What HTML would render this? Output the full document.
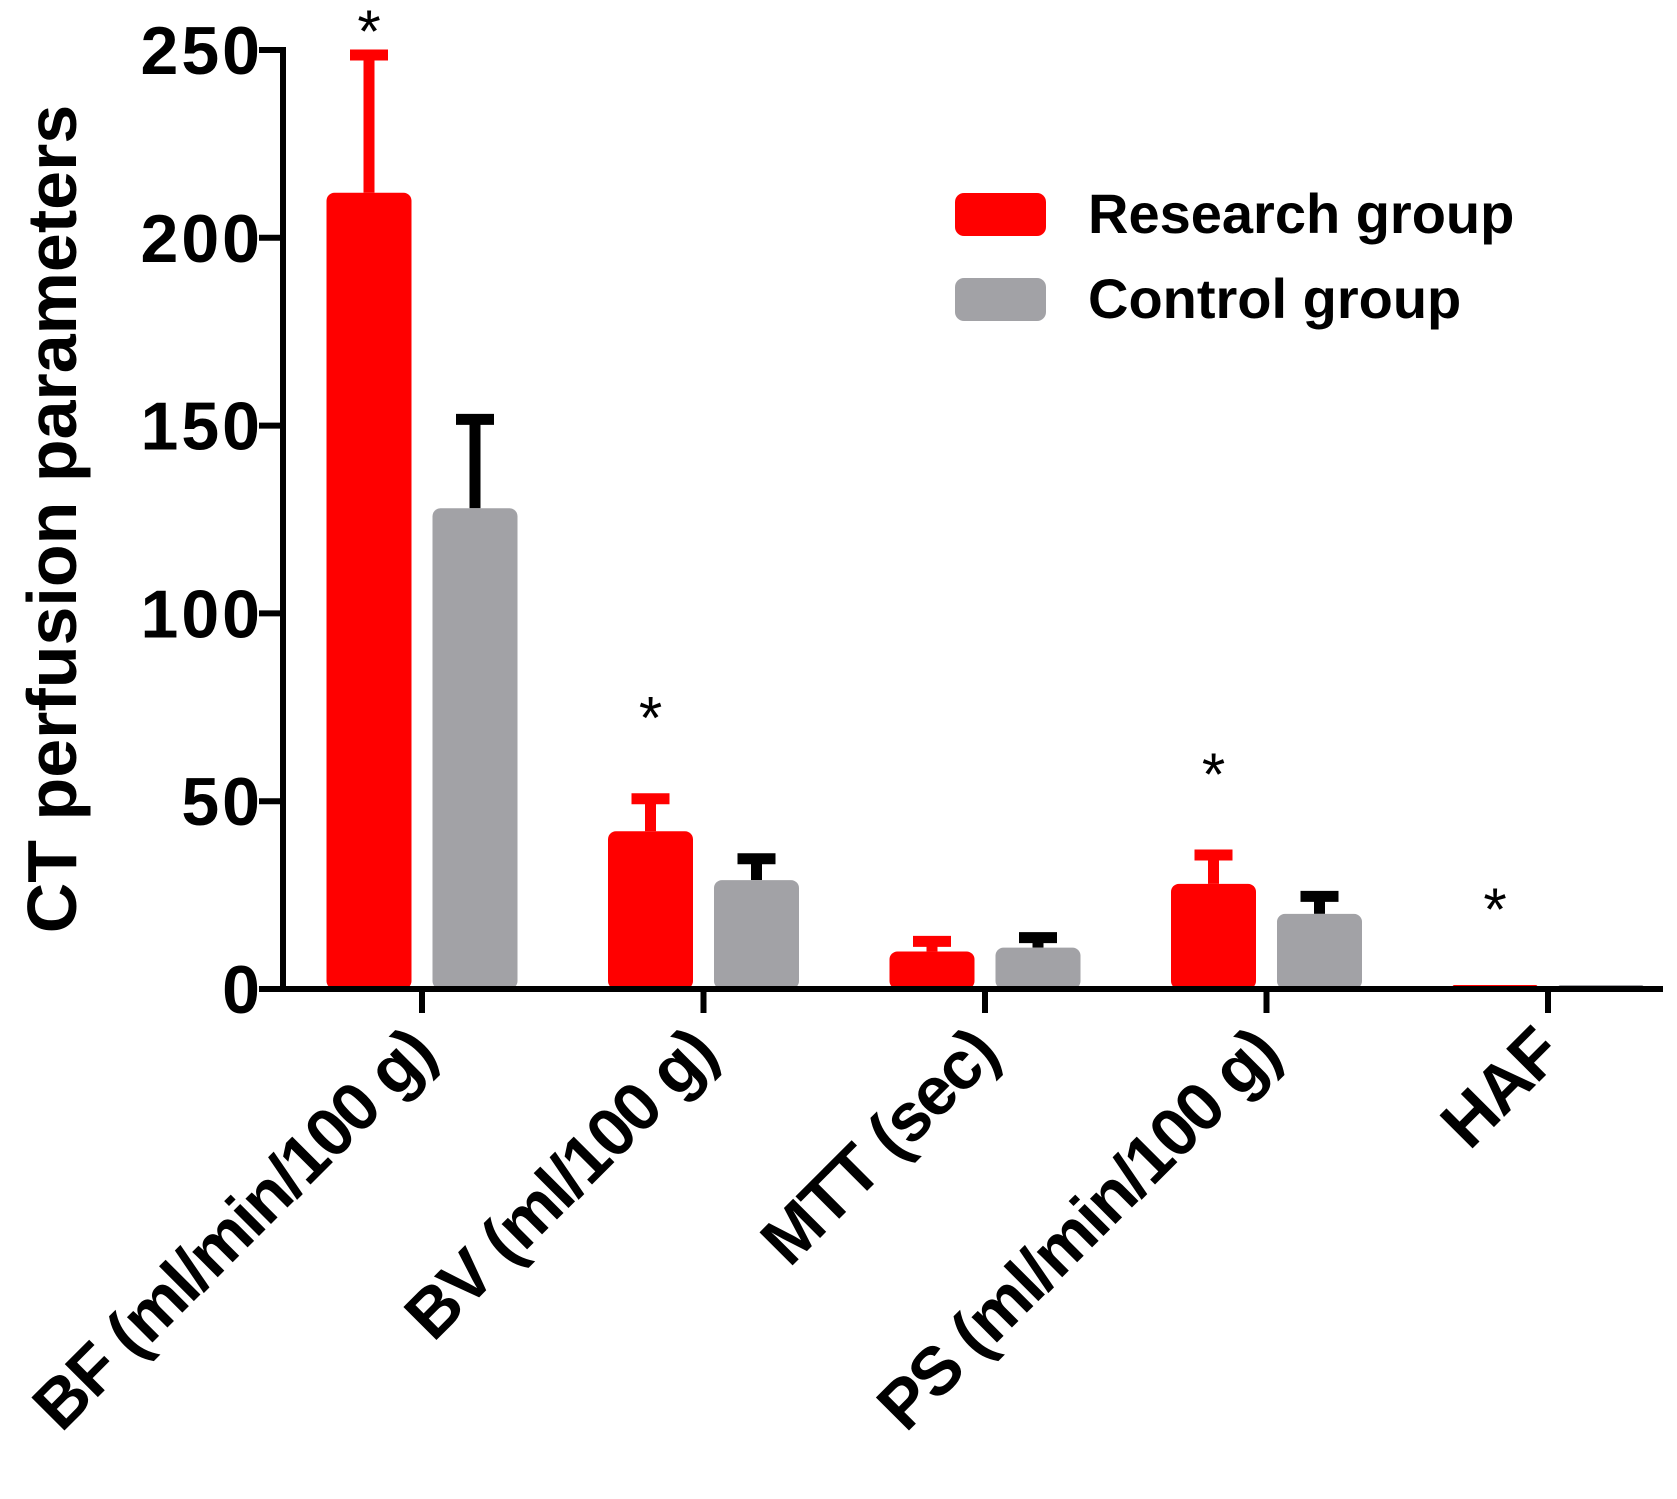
<!DOCTYPE html>
<html><head><meta charset="utf-8"><style>
html,body{margin:0;padding:0;background:#fff;}
svg{display:block;font-family:"Liberation Sans",Arial,sans-serif;font-weight:bold;}
</style></head><body>
<svg id="chart" width="1677" height="1499" viewBox="0 0 1677 1499" xmlns="http://www.w3.org/2000/svg"></svg>
<script>
const categories = ["BF (ml/min/100 g)", "BV (ml/100 g)", "MTT (sec)", "PS (ml/min/100 g)", "HAF"];
const researchValues = [212, 42, 10, 28, 0.8];
const researchErrors = [38, 10, 4, 9, 0.3];
const controlValues = [128, 29, 11, 20, 0.8];
const controlErrors = [25, 7, 4, 6, 0.4];
const significant = [true, true, false, true, true];
const yTicks = [0, 50, 100, 150, 200, 250];

const NS = "http://www.w3.org/2000/svg";
const svg = document.getElementById("chart");
const X0 = 283, X1 = 1663, Y0 = 989, Y250 = 50;
function y(v){ return Y0 - (v/250)*(Y0-Y250); }
function cx(i){ return 422 + i*281.5; }
function mk(tag, attrs, parent){ const e=document.createElementNS(NS,tag); for(const k in attrs) e.setAttribute(k,attrs[k]); (parent||svg).appendChild(e); return e; }

const barW = 85, off = 53;
categories.forEach((c,i)=>{
  const g = mk("g",{});
  
  
  [[researchValues[i],researchErrors[i],-off,"#ff0000","#ff0000","research"],[controlValues[i],controlErrors[i],off,"#a2a2a6","#000","control"]].forEach(([v,e,o,col,ecol,nm])=>{
    const bx = cx(i)+o;
    if (v > 2) {
      const ln = mk("line",{x1:bx,x2:bx,y1:y(v),y2:y(v+e),stroke:ecol,"stroke-width":11},g);
      
      
      const cap = mk("line",{x1:bx-19,x2:bx+19,y1:y(v+e)+5,y2:y(v+e)+5,stroke:ecol,"stroke-width":11},g);
      
      
    }
    const h = Math.max(Y0-y(v),4);
    const r = mk("rect",{x:bx-barW/2,y:Y0-h,width:barW,height:h,fill:col,rx:Math.min(8,h/2)},g);
    
    
  });
  if(significant[i]){
    const top = y(researchValues[i]+researchErrors[i]);
    const s = mk("text",{x:cx(i)-off,y:i===0?52:top-55,"text-anchor":"middle","font-size":60,"font-weight":"normal",fill:"#000"},g);
    
    
    s.textContent="*";
  }
  const tk = mk("line",{x1:cx(i),x2:cx(i),y1:Y0,y2:Y0+24,stroke:"#000","stroke-width":6});
  
  
  const t = mk("text",{x:0,y:0,"text-anchor":"end","font-size":68,"letter-spacing":-2,fill:"#000",transform:`translate(${cx(i)+16},${Y0+68}) rotate(-45)`});
  
  
  t.textContent=c;
});

yTicks.forEach(v=>{
  const tk = mk("line",{x1:X0-24,x2:X0,y1:y(v),y2:y(v),stroke:"#000","stroke-width":6});
  
  
  const t = mk("text",{x:X0-20,y:y(v)+24,"text-anchor":"end","font-size":68,"letter-spacing":3,fill:"#000"});
  
  
  t.textContent=v;
});
const ya = mk("line",{x1:X0,x2:X0,y1:Y250-3,y2:Y0+3,stroke:"#000","stroke-width":6});


const xa = mk("line",{x1:X0-3,x2:X1,y1:Y0,y2:Y0,stroke:"#000","stroke-width":6});


const yt = mk("text",{x:0,y:0,"text-anchor":"middle","font-size":70,fill:"#000",transform:"translate(76,519) rotate(-90)"});


yt.textContent="CT perfusion parameters";

[["Research group","#ff0000",193],["Control group","#a2a2a6",278]].forEach(([n,c,yy])=>{
  const g = mk("g",{});
  
  
  mk("rect",{x:955,y:yy,width:91,height:43,rx:9,fill:c},g);
  const t = mk("text",{x:1088,y:yy+40,"font-size":56,fill:"#000"},g);
  t.textContent=n;
});
</script>
</body></html>
